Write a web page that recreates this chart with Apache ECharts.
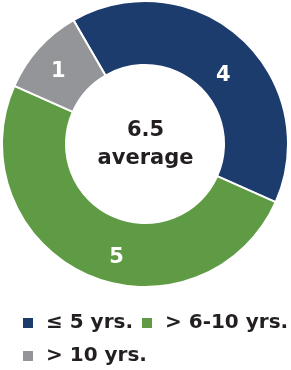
<!DOCTYPE html>
<html>
<head>
<meta charset="utf-8">
<script src="https://cdn.jsdelivr.net/npm/echarts@6/dist/echarts.min.js"></script>
<style>html,body{margin:0;padding:0;background:#fff;}#c{width:291px;height:370px;}</style>
</head>
<body>
<div id="c"></div>
<script>
var categories = ['≤ 5 yrs.', '> 6-10 yrs.', '> 10 yrs.'];
var values = [4, 5, 1];
var colors = ['#1d3c6e', '#5f9b44', '#939598'];
var centerValue = '6.5';
var centerLabel = 'average';

var labelNudges = [[2, 16], [18, 9], [-2, 4]];

var chart = echarts.init(document.getElementById('c'));
var font = 'DejaVu Sans';
chart.setOption({
  animation: false,
  graphic: [{
    type: 'text',
    left: 'center',
    top: 117,
    style: {
      text: centerValue + '\n' + centerLabel,
      font: 'bold 21px "DejaVu Sans"',
      fill: '#231f20',
      textAlign: 'center',
      lineHeight: 28
    }
  }],
  legend: {
    left: 21,
    top: 310,
    width: 268,
    orient: 'horizontal',
    icon: 'rect',
    itemWidth: 12,
    itemHeight: 12,
    itemGap: 7,
    padding: 0,
    textStyle: {
      fontFamily: font,
      fontWeight: 'bold',
      fontSize: 20,
      color: '#231f20',
      lineHeight: 26,
      padding: [0, 0, 0, 7]
    },
    data: categories
  },
  series: [{
    type: 'pie',
    center: [145, 144],
    radius: [79, 143],
    startAngle: 120,
    clockwise: true,
    itemStyle: { borderColor: '#fff', borderWidth: 2 },
    label: {
      show: true,
      position: 'inside',
      formatter: '{c}',
      color: '#fff',
      fontFamily: font,
      fontWeight: 'bold',
      fontSize: 21
    },
    labelLine: { show: false },
    emphasis: { disabled: true },
    data: categories.map(function (n, i) {
      return {
        name: n,
        value: values[i],
        itemStyle: { color: colors[i] },
        label: { offset: labelNudges[i] }
      };
    })
  }]
});
</script>
</body>
</html>
